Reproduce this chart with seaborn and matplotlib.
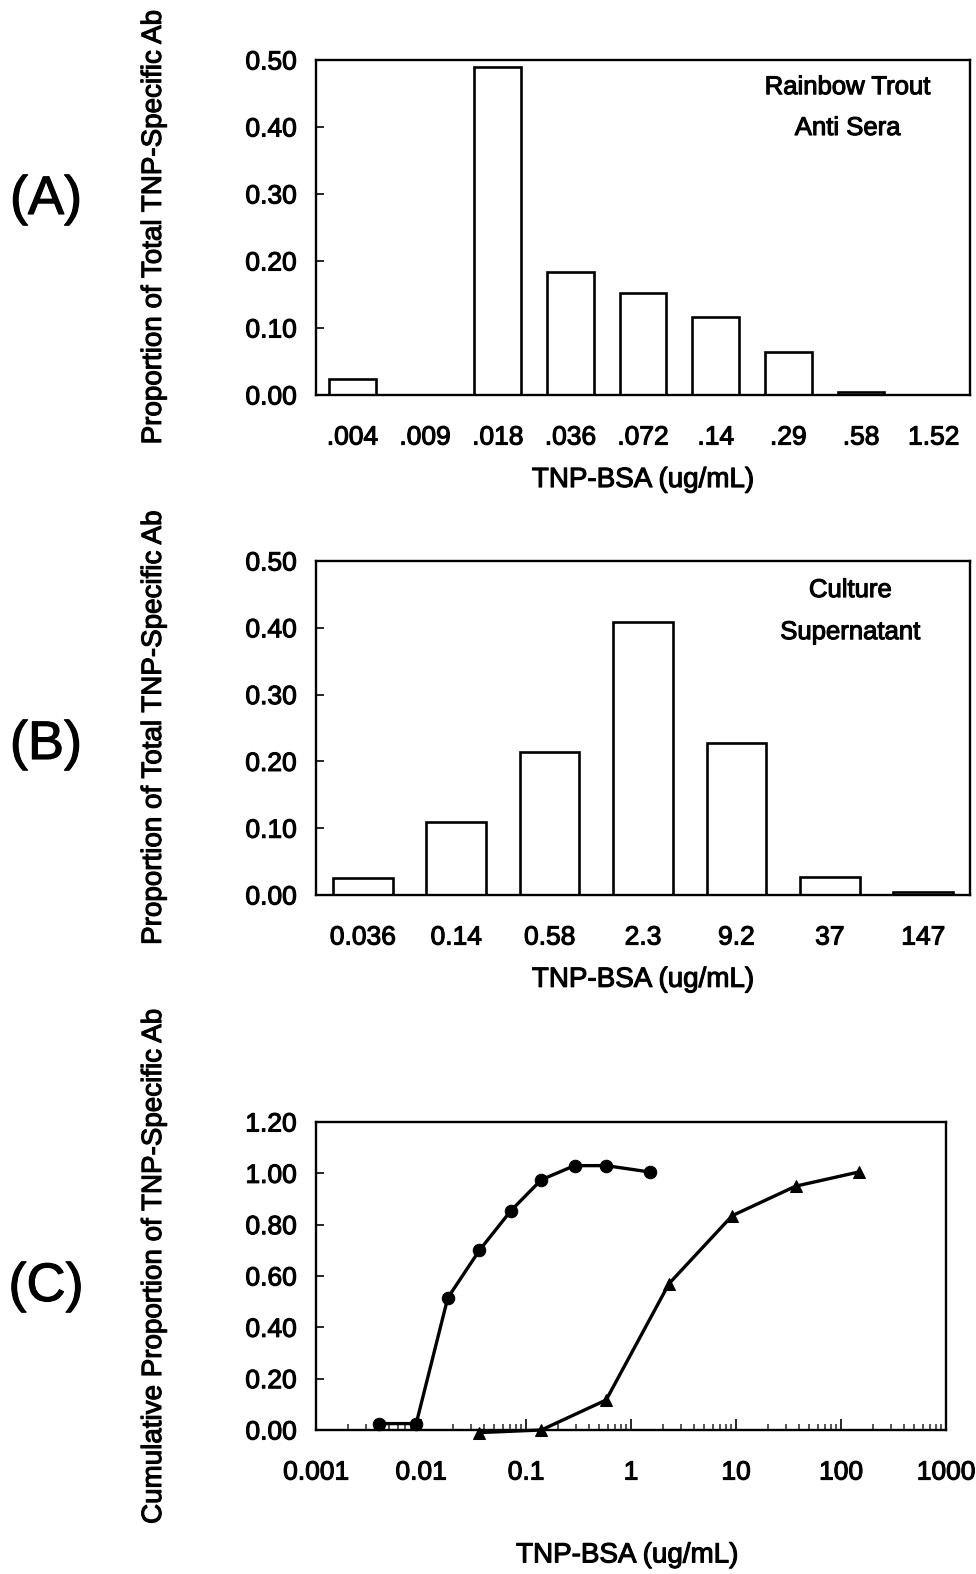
import numpy as np
import pandas as pd
import seaborn as sns
import matplotlib.pyplot as plt
import matplotlib.patheffects as pe
from matplotlib.text import Text
from matplotlib.ticker import LogLocator, NullFormatter, FixedLocator

# panel A - rainbow trout anti sera
conc_a = [".004", ".009", ".018", ".036", ".072", ".14", ".29", ".58", "1.52"]
prop_a = [0.024, 0.0, 0.49, 0.184, 0.152, 0.116, 0.064, 0.004, 0.0]

# panel B - culture supernatant
conc_b = ["0.036", "0.14", "0.58", "2.3", "9.2", "37", "147"]
prop_b = [0.025, 0.109, 0.214, 0.409, 0.228, 0.027, 0.004]

# panel C - cumulative proportions
cum_x_sera = [0.004, 0.009, 0.018, 0.036, 0.072, 0.14, 0.29, 0.58, 1.52]
cum_y_sera = [0.025, 0.025, 0.515, 0.70, 0.855, 0.975, 1.03, 1.03, 1.005]
cum_x_sup = [0.036, 0.14, 0.58, 2.3, 9.2, 37, 147]
cum_y_sup = [-0.01, 0.0, 0.117, 0.57, 0.835, 0.95, 1.005]

sns.set_theme(style="white")
plt.rcParams['font.family'] = ['Liberation Sans', 'DejaVu Sans']
plt.rcParams['axes.linewidth'] = 1.7

W, H = 976, 1574
fig = plt.figure(figsize=(W / 100, H / 100), dpi=100)

def px_axes(l, r, t, b):
    return fig.add_axes([l / W, 1 - b / H, (r - l) / W, (b - t) / H])

ax_a = px_axes(316, 970, 60, 395)
ax_b = px_axes(316, 970, 561, 895)
ax_c = px_axes(316, 946, 1122, 1430)

tick_fs = 19
lab_fs = 20
note_fs = 18.5
ylab = "Proportion of Total TNP-Specific Ab"

def bar_panel(ax, cats, vals, notes, note_x, note_ys):
    df = pd.DataFrame({"conc": cats, "prop": vals})
    sns.barplot(data=df, x="conc", y="prop", ax=ax, color="white",
                edgecolor="black", linewidth=1.9, width=0.64, saturation=1)
    ax.set_ylim(0, 0.5)
    ax.set_yticks(np.arange(0, 0.51, 0.1))
    ax.set_yticklabels([f"{v:.2f}" for v in np.arange(0, 0.51, 0.1)])
    ax.tick_params(axis="y", direction="in", length=6, width=1.4, pad=14,
                   labelsize=tick_fs, left=True)
    ax.tick_params(axis="x", length=0, pad=22, labelsize=tick_fs)
    ax.set_xlabel("TNP-BSA (ug/mL)", fontsize=lab_fs)
    ax.set_ylabel(ylab, fontsize=lab_fs)
    ax.xaxis.set_label_coords(0.5, -0.215)
    ax.yaxis.set_label_coords(-0.228, 0.5)
    for txt, ny in zip(notes, note_ys):
        ax.text(note_x, ny, txt, transform=ax.transAxes, ha="center",
                va="center", fontsize=note_fs)
    for s in ax.spines.values():
        s.set_visible(True)
        s.set_color("black")

bar_panel(ax_a, conc_a, prop_a, ["Rainbow Trout", "Anti Sera"], 0.813, [0.919, 0.797])
bar_panel(ax_b, conc_b, prop_b, ["Culture", "Supernatant"], 0.817, [0.913, 0.787])

# panel C
sera = pd.DataFrame({"x": cum_x_sera, "y": cum_y_sera})
sup = pd.DataFrame({"x": cum_x_sup, "y": cum_y_sup})
sns.lineplot(data=sera, x="x", y="y", ax=ax_c, color="black", lw=2.4,
             marker="o", markersize=9, markeredgecolor="black", clip_on=False)
sns.lineplot(data=sup, x="x", y="y", ax=ax_c, color="black", lw=2.4,
             marker="^", markersize=9, markeredgecolor="black", clip_on=False)
ax_c.set_xscale("log")
ax_c.set_xlim(0.001, 1000)
ax_c.set_ylim(0, 1.2)
ax_c.set_yticks(np.arange(0, 1.21, 0.2))
ax_c.set_yticklabels([f"{v:.2f}" for v in np.arange(0, 1.21, 0.2)])
ax_c.xaxis.set_major_locator(FixedLocator([0.001, 0.01, 0.1, 1, 10, 100, 1000]))
ax_c.set_xticklabels(["0.001", "0.01", "0.1", "1", "10", "100", "1000"])
ax_c.xaxis.set_minor_locator(LogLocator(base=10, subs=np.arange(2, 10), numticks=20))
ax_c.xaxis.set_minor_formatter(NullFormatter())
ax_c.tick_params(axis="y", direction="in", length=6, width=1.4, pad=14,
                 labelsize=tick_fs, left=True)
ax_c.tick_params(axis="x", which="major", direction="in", length=8, width=1.4,
                 pad=22, labelsize=tick_fs, bottom=True)
ax_c.tick_params(axis="x", which="minor", direction="in", length=4, width=1.1,
                 bottom=True)
ax_c.set_xlabel("TNP-BSA (ug/mL)", fontsize=lab_fs)
ax_c.set_ylabel("Cumulative Proportion of TNP-Specific Ab", fontsize=lab_fs)
ax_c.xaxis.set_label_coords(0.494, -0.365)
ax_c.yaxis.set_label_coords(-0.2365, 0.53)
for s in ax_c.spines.values():
    s.set_visible(True)
    s.set_color("black")

for lab, yc in [("(A)", 200), ("(B)", 745), ("(C)", 1287)]:
    fig.text(46 / W, 1 - yc / H, lab, fontsize=39, ha="center", va="center")

# scanned original looks heavy, thicken the glyphs a little
for t in fig.findobj(Text):
    t.set_color("black")
    t.set_path_effects([pe.withStroke(linewidth=0.8, foreground="black")])

fig.savefig("out.png", dpi=100)
